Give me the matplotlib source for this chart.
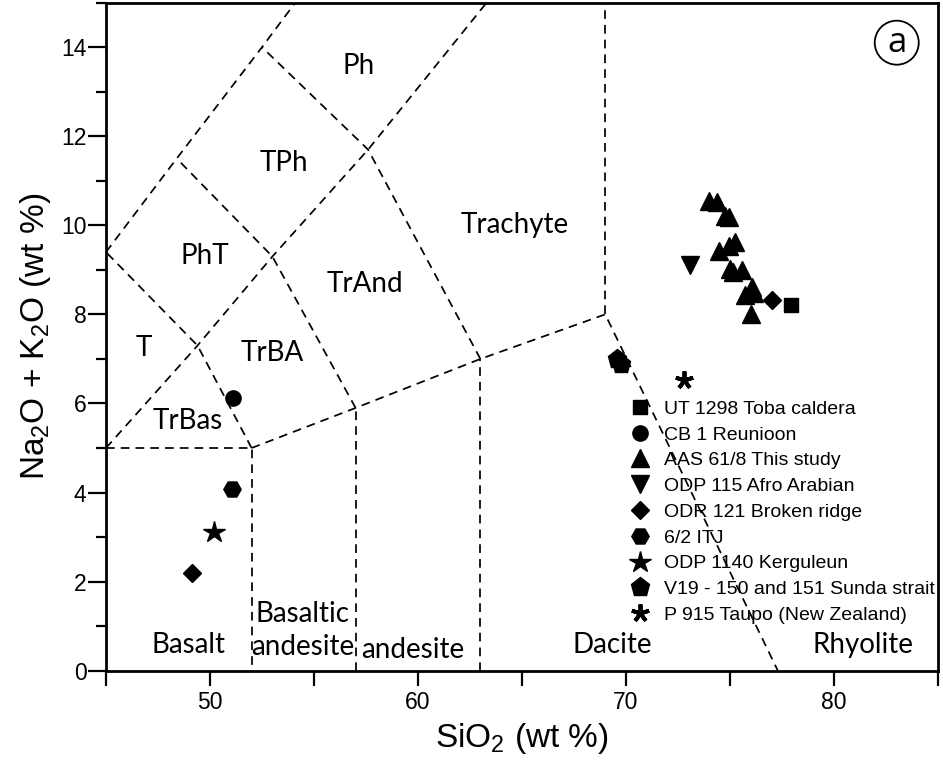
import matplotlib
matplotlib.use("Agg")
import matplotlib.pyplot as plt
from matplotlib.patches import Ellipse
from matplotlib.ticker import MultipleLocator

plt.rcParams['font.family'] = ['Liberation Sans', 'DejaVu Sans']
plt.rcParams['mathtext.fontset'] = 'custom'
plt.rcParams['mathtext.rm'] = 'Liberation Sans'
plt.rcParams['mathtext.it'] = 'Liberation Sans:italic'

# TAS field boundaries (SiO2, Na2O+K2O)
boundaries = [
    [(45, 5), (52, 5), (52, 0)],
    [(57, 0), (57, 5.9)],
    [(63, 0), (63, 7)],
    [(52, 5), (57, 5.9), (63, 7), (69, 8), (77.3, 0)],
    [(69, 8), (69, 15)],
    [(45, 5), (49.4, 7.3), (53, 9.3), (57.6, 11.7), (63.3, 15)],
    [(52, 5), (49.4, 7.3), (45, 9.4)],
    [(57, 5.9), (53, 9.3), (48.4, 11.5)],
    [(63, 7), (57.6, 11.7), (52.5, 14)],
    [(45, 9.4), (48.4, 11.5), (52.5, 14), (54.1, 15)],
]

field_names = ['Ph', 'TPh', 'PhT', 'Trachyte', 'TrAnd', 'T', 'TrBA', 'TrBas',
               'Basalt', 'Basaltic\nandesite', 'andesite', 'Dacite', 'Rhyolite']
field_x = [57.15, 53.55, 49.75, 64.65, 57.45, 46.8, 53.0, 48.95,
           48.95, 54.45, 59.75, 69.35, 81.4]
field_y = [13.57, 11.4, 9.32, 10.0, 8.69, 7.24, 7.13, 5.6,
           0.57, 0.9, 0.47, 0.57, 0.57]

# samples
toba_x, toba_y = [77.95], [8.21]
reunion_x, reunion_y = [51.1], [6.13]
aas_x = [73.98, 74.38, 74.78, 74.94, 75.25, 74.94, 74.46, 75.0, 75.57, 75.14, 76.05, 76.13, 75.73, 76.0]
aas_y = [10.55, 10.53, 10.22, 10.18, 9.62, 9.53, 9.43, 9.02, 8.99, 8.95, 8.61, 8.47, 8.43, 8.0]
afro_x, afro_y = [73.1], [9.12]
broken_x, broken_y = [77.0, 49.15], [8.32, 2.2]
itj_x, itj_y = [51.05], [4.08]
kerg_x, kerg_y = [50.2], [3.12]
sunda_x, sunda_y = [69.55, 69.78], [6.99, 6.88]
taupo_x, taupo_y = [72.8], [6.53]

fig = plt.figure(figsize=(9.43, 7.61), dpi=100)
ax = fig.add_axes([0.1124, 0.1187, 0.8823, 0.8778])

for seg in boundaries:
    xs = [p[0] for p in seg]
    ys = [p[1] for p in seg]
    ax.plot(xs, ys, color='black', lw=1.25, linestyle=(0, (5, 3.5)), zorder=1)

for name, fx, fy in zip(field_names, field_x, field_y):
    ax.text(fx, fy, name, ha='center', va='center', fontsize=20,
            family=['Lato', 'DejaVu Sans'], linespacing=1.3)

kw = dict(color='black', linestyle='none', zorder=3)
ax.plot(toba_x, toba_y, marker='s', ms=9.5, label='UT 1298 Toba caldera', **kw)
ax.plot(reunion_x, reunion_y, marker='o', ms=11, label='CB 1 Reunioon', **kw)
ax.plot(aas_x, aas_y, marker='^', ms=13.5, label='AAS 61/8 This study', **kw)
ax.plot(afro_x, afro_y, marker='v', ms=13.5, label='ODP 115 Afro Arabian', **kw)
ax.plot(broken_x, broken_y, marker='D', ms=9.5, label='ODR 121 Broken ridge', **kw)
ax.plot(itj_x, itj_y, marker='H', ms=12.5, label='6/2 ITJ', **kw)
ax.plot(kerg_x, kerg_y, marker='*', ms=16, label='ODP 1140 Kerguleun', **kw)
ax.plot(sunda_x, sunda_y, marker='p', ms=14, label='V19 - 150 and 151 Sunda strait', **kw)
ax.plot(taupo_x, taupo_y, marker=(5, 2, 0), ms=13, mew=2.8,
        label='P 915 Taupo (New Zealand)', **kw)

ax.legend(loc='upper left', bbox_to_anchor=(0.63, 0.405), frameon=False,
          fontsize=14, handlelength=1.0, handletextpad=0.75, labelspacing=0.42,
          borderpad=0, borderaxespad=0, numpoints=1)

ax.set_xlim(45, 85)
ax.set_ylim(0, 15)
ax.xaxis.set_major_locator(MultipleLocator(10))
ax.xaxis.set_minor_locator(MultipleLocator(5))
ax.yaxis.set_major_locator(MultipleLocator(2))
ax.yaxis.set_minor_locator(MultipleLocator(1))
ax.set_yticks(range(0, 15, 2))
ax.tick_params(axis='x', which='both', length=10.5, width=1.6, labelsize=16.5, pad=4)
ax.tick_params(axis='y', which='major', length=13, width=1.6, labelsize=16.5, pad=1)
ax.tick_params(axis='y', which='minor', length=7.5, width=1.6)
for s in ax.spines.values():
    s.set_linewidth(2)

ax.set_xlabel('SiO$_2$ (wt %)', fontsize=24, labelpad=5)
ax.set_ylabel('Na$_2$O + K$_2$O (wt %)', fontsize=24, labelpad=6)

# panel tag
ax.add_patch(Ellipse((0.9504, 0.9401), 0.0529, 0.0659, transform=ax.transAxes,
                     fill=False, lw=1.3, color='black', clip_on=False))
ax.text(0.9504, 0.9401, 'a', transform=ax.transAxes, ha='center', va='center',
        fontsize=25, family=['Open Sans', 'DejaVu Sans'])

fig.savefig('out.png', dpi=100)
